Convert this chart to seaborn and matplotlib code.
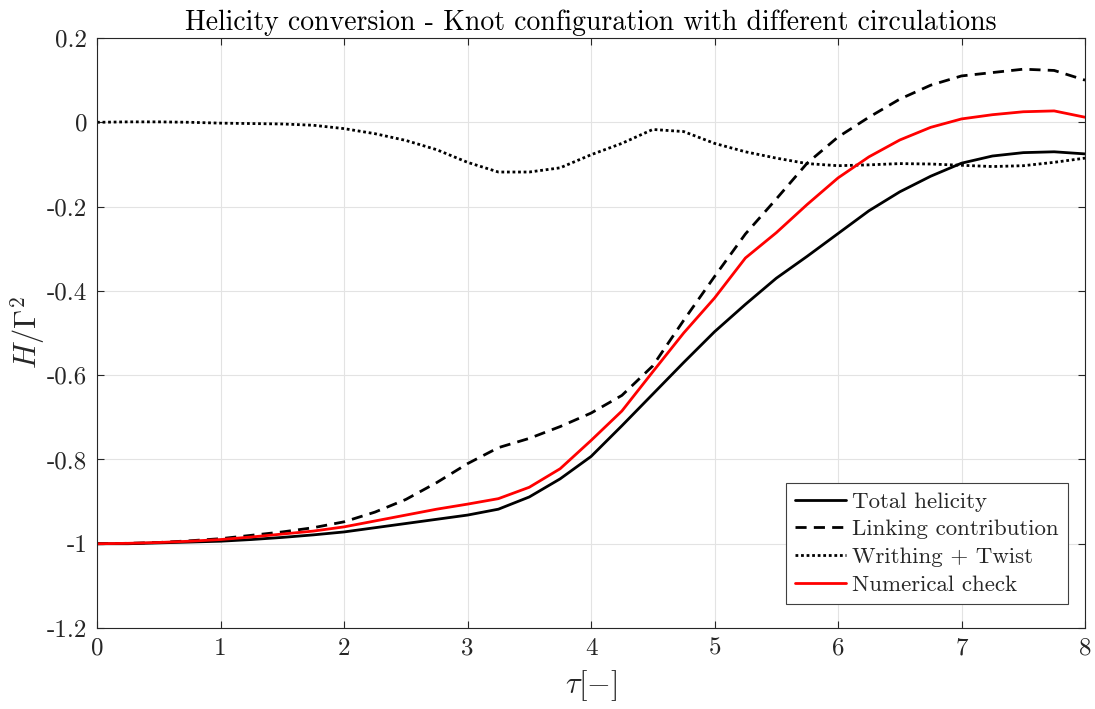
import numpy as np
import pandas as pd
import matplotlib
matplotlib.use("Agg")
import matplotlib.pyplot as plt
import seaborn as sns

# Time axis (tau) and helicity components normalised by Gamma^2
tau = [0.0, 0.25, 0.5, 0.75, 1.0, 1.25, 1.5, 1.75, 2.0, 2.25, 2.5, 2.75,
       3.0, 3.25, 3.5, 3.75, 4.0, 4.25, 4.5, 4.75, 5.0, 5.25, 5.5, 5.75,
       6.0, 6.25, 6.5, 6.75, 7.0, 7.25, 7.5, 7.75, 8.0]

total_helicity = [-1.000, -1.000, -0.998, -0.996, -0.994, -0.990, -0.985, -0.979,
                  -0.972, -0.962, -0.952, -0.942, -0.932, -0.918, -0.889, -0.846,
                  -0.793, -0.720, -0.645, -0.570, -0.497, -0.432, -0.370, -0.318,
                  -0.264, -0.210, -0.165, -0.128, -0.097, -0.080, -0.072, -0.070,
                  -0.075]

linking = [-1.000, -0.999, -0.997, -0.993, -0.988, -0.980, -0.972, -0.962,
           -0.948, -0.925, -0.895, -0.855, -0.810, -0.772, -0.750, -0.722,
           -0.690, -0.648, -0.578, -0.470, -0.366, -0.265, -0.182, -0.097,
           -0.035, 0.012, 0.055, 0.088, 0.110, 0.118, 0.126, 0.123,
           0.100]

writhe_twist = [0.000, 0.001, 0.001, 0.000, -0.002, -0.003, -0.004, -0.007,
                -0.015, -0.027, -0.043, -0.065, -0.095, -0.118, -0.118, -0.108,
                -0.077, -0.050, -0.017, -0.022, -0.050, -0.070, -0.085, -0.098,
                -0.103, -0.101, -0.098, -0.099, -0.102, -0.105, -0.103, -0.095,
                -0.085]

numerical_check = [-1.000, -0.999, -0.997, -0.994, -0.990, -0.984, -0.977, -0.970,
                   -0.960, -0.946, -0.932, -0.918, -0.906, -0.893, -0.866, -0.822,
                   -0.755, -0.685, -0.592, -0.500, -0.417, -0.322, -0.262, -0.195,
                   -0.132, -0.082, -0.042, -0.012, 0.008, 0.018, 0.025, 0.027,
                   0.012]

labels = ["Total helicity", "Linking contribution", "Writhing + Twist", "Numerical check"]
series = [total_helicity, linking, writhe_twist, numerical_check]
colors = ["black", "black", "black", "#ff0000"]
styles = ["-", (0, (4, 2.6)), (0, (1, 1)), "-"]

x_ticks = [0, 1, 2, 3, 4, 5, 6, 7, 8]
y_ticks = [-1.2, -1.0, -0.8, -0.6, -0.4, -0.2, 0.0, 0.2]
y_tick_labels = ["-1.2", "-1", "-0.8", "-0.6", "-0.4", "-0.2", "0", "0.2"]

sns.set_theme(style="white")
plt.rcParams["font.family"] = ["cmr10", "DejaVu Serif"]
plt.rcParams["mathtext.fontset"] = "cm"
plt.rcParams["axes.unicode_minus"] = False

frame = pd.DataFrame({"tau": np.tile(tau, len(series)),
                      "H": np.concatenate(series),
                      "component": np.repeat(labels, len(tau))})

fig = plt.figure(figsize=(10.95, 7.09), dpi=100)
ax = fig.add_axes([0.0886, 0.1142, 0.9023, 0.8322])

for lab, col, ls in zip(labels, colors, styles):
    sub = frame[frame["component"] == lab]
    sns.lineplot(data=sub, x="tau", y="H", ax=ax, color=col, linestyle=ls,
                 linewidth=2.0, label=lab)

ax.set_xlim(0, 8)
ax.set_ylim(-1.2, 0.2)
ax.set_xticks(x_ticks)
ax.set_xticklabels([str(t) for t in x_ticks])
ax.set_yticks(y_ticks)
ax.set_yticklabels(y_tick_labels)
ax.grid(True, color="#e3e3e3", linewidth=0.8)
ax.set_axisbelow(True)

axis_col = "#262626"
for sp in ax.spines.values():
    sp.set_color(axis_col)
    sp.set_linewidth(0.8)
ax.tick_params(direction="in", length=5, width=0.8, colors=axis_col,
               top=True, right=True, bottom=True, left=True,
               labelsize=18, pad=7)

ax.set_xlabel(r"$\tau[-]$", fontsize=22, color=axis_col, labelpad=6)
ax.set_ylabel(r"$H/\Gamma^2$", fontsize=22, color=axis_col, labelpad=0)
ax.set_title("Helicity conversion - Knot configuration with different circulations",
             fontsize=20, color="black", pad=6)

leg = ax.legend(loc="lower right", bbox_to_anchor=(0.983, 0.041), borderaxespad=0,
                fontsize=16.5, frameon=True, fancybox=False, handlelength=2.2,
                handletextpad=0.3, labelspacing=0.33, borderpad=0.4)
leg.get_frame().set_edgecolor("#404040")
leg.get_frame().set_linewidth(0.8)
leg.get_frame().set_alpha(1.0)

fig.savefig("out.png", dpi=100)
